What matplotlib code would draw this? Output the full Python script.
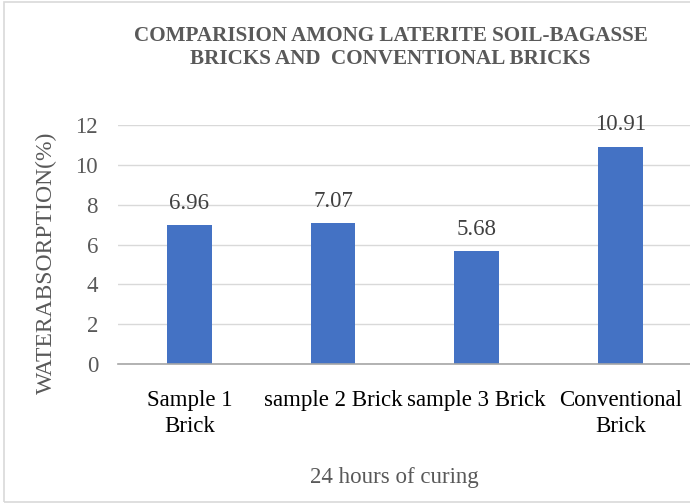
import matplotlib
matplotlib.use("Agg")
import matplotlib.pyplot as plt
from matplotlib.patches import Rectangle

categories = ["Sample 1\nBrick", "sample 2 Brick", "sample 3 Brick", "Conventional\nBrick"]
values = [6.96, 7.07, 5.68, 10.91]
labels = ["6.96", "7.07", "5.68", "10.91"]
yticks = [0, 2, 4, 6, 8, 10, 12]

plt.rcParams['font.family'] = ['Liberation Serif', 'DejaVu Serif']

fig = plt.figure(figsize=(6.9, 5.04), dpi=100)
fig.patches.append(Rectangle((0.006, 0.004), 1.5, 0.992, transform=fig.transFigure,
                             fill=False, edgecolor='#d9d9d9', linewidth=1.2))
ax = fig.add_axes([0.1703, 0.2778, 0.833, 0.474])
x = range(len(categories))
ax.bar(x, values, width=0.31, color='#4472C4', zorder=3)
for xi, v, l in zip(x, values, labels):
    ax.text(xi, v + 1.1, l, ha='center', va='center', fontsize=16.5, color='#404040')
ax.set_xlim(-0.5, 3.5)
ax.set_ylim(0, 12)
ax.set_yticks(yticks)
ax.set_yticklabels([str(t) for t in yticks], fontsize=16.5, color='#595959')
ax.set_xticks(list(x))
ax.set_xticklabels(categories, fontsize=16.5, color='black', linespacing=1.3)
ax.tick_params(axis='both', length=0)
ax.tick_params(axis='y', pad=14)
ax.tick_params(axis='x', pad=19)
ax.grid(axis='y', color='#d9d9d9', linewidth=1.0, zorder=0)
for s in ['top', 'right', 'left']:
    ax.spines[s].set_visible(False)
ax.spines['bottom'].set_color('#a6a6a6')
ax.spines['bottom'].set_linewidth(1.2)
ax.spines['bottom'].set_zorder(4)
ax.set_ylabel("WATERABSORPTION(%)", fontsize=17, color='#595959')
ax.yaxis.set_label_coords(-0.105, 0.423)
fig.text(0.571, 0.052, "24 hours of curing", ha='center', va='center', fontsize=16.5, color='#595959')
fig.text(0.566, 0.905, "COMPARISION AMONG LATERITE SOIL-BAGASSE\nBRICKS AND  CONVENTIONAL BRICKS",
         ha='center', va='center', fontsize=15.2, fontweight='bold', color='#595959', linespacing=1.2)
fig.savefig("out.png", dpi=100)
